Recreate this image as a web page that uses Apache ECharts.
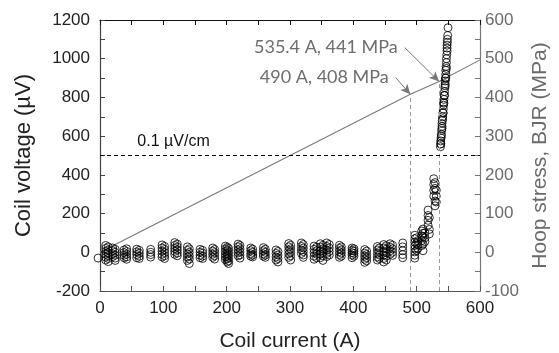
<!DOCTYPE html>
<html>
<head>
<meta charset="utf-8">
<script src="https://cdn.jsdelivr.net/npm/echarts@6/dist/echarts.min.js"></script>
<style>
  html, body { margin: 0; padding: 0; background: #fff; }
  #chart { width: 559px; height: 353px; }
</style>
</head>
<body>
<div id="chart"></div>
<script>
// Measured coil voltage columns below the transition: one current per column
const groupCurrents = [-3, 9, 13, 20, 24, 38, 42, 58, 62, 80, 98, 102, 118, 122, 138, 141,
  158, 162, 178, 181, 198, 201, 203, 218, 221, 238, 241, 258, 261, 278, 281,
  298, 301, 318, 321, 338, 342, 348, 352, 358, 362, 378, 381, 398, 401,
  418, 421, 438, 441, 448, 452, 458, 462, 478];
const groupVoltages = [
  [-30],
  [35, 20, 5, -10, -25, -40],
  [28, 12, -3, -18, -32, -48],
  [22, 8, -8, -22],
  [15, 0, -15, -30, -42],
  [12, -2, -15, -28],
  [18, 4, -10, -24, -36],
  [16, 2, -12, -28],
  [10, -5, -20, -32],
  [15, 0, -12, -25],
  [38, 22, 6, -10, -24],
  [30, 14, -2, -18, -32],
  [50, 35, 20, 5, -10],
  [42, 27, 12, -4, -18],
  [28, 10, -8, -25, -42],
  [18, 0, -18, -35, -58],
  [15, 0, -15, -28],
  [10, -5, -20, -32],
  [22, 6, -10, -26],
  [14, -2, -18, -35],
  [32, 18, 4, -10, -24, -38],
  [26, 10, -6, -20, -34, -50],
  [20, 4, -12, -28, -44, -58],
  [42, 28, 12, -3, -18],
  [35, 18, 2, -14, -30],
  [22, 8, -8, -20],
  [16, 0, -14, -24],
  [24, 8, -8, -20],
  [16, 0, -14, -26],
  [12, -6, -24, -40],
  [4, -14, -32, -50],
  [45, 28, 10, -8, -26],
  [36, 18, 0, -18, -40],
  [48, 30, 12, -6],
  [40, 22, 4, -14, -26],
  [32, 15, -2, -20, -36],
  [26, 8, -10, -28],
  [44, 26, 8, -10, -28],
  [36, 18, 0, -18, -42],
  [48, 30, 12, -6, -22],
  [40, 22, 4, -14],
  [36, 20, 4, -12, -26],
  [28, 12, -4, -20],
  [22, 10, -2, -14, -28],
  [18, 6, -6, -20],
  [14, -4, -20, -36, -52],
  [6, -12, -28, -44],
  [30, 12, -6, -24, -40],
  [22, 4, -14, -32],
  [40, 22, 4, -14, -32, -50],
  [34, 16, -2, -20, -40],
  [44, 26, 8, -10],
  [36, 18, 0, -16],
  [48, 28, 8, -12, -28]
];

// Transition and quench points (current A, voltage µV)
const rampCurrent = [497, 497, 497, 497, 497, 497, 497, 497, 500, 500, 500, 502, 502, 502,
  508, 508, 508, 508, 510, 510, 510, 510, 510, 513, 513, 513,
  518, 518, 518, 518, 520, 520, 520,
  527, 527, 527, 527, 529, 529, 529, 529, 531, 531, 531,
  537.5, 538, 538, 538.5, 539, 539.5, 540, 540, 540.5, 541, 541.5, 542, 542.5, 542.5,
  543, 543.5, 544, 544.5, 545, 545, 545.5, 546, 546, 546.5, 547, 547, 547.5, 548,
  548, 548, 548.5, 548.5, 549, 549.5, 539, 541, 543, 545, 547, 538, 540, 542, 544, 546];
const rampVoltage = [88, 70, 52, 35, 18, 2, -15, -30, 75, 45, 10, 60, 40, 20,
  110, 85, 60, 35, 120, 98, 80, 42, 8, 100, 75, 55,
  218, 190, 165, 140, 180, 118, 95,
  380, 350, 320, 290, 360, 330, 265, 240, 320, 290, 260,
  545, 560, 575, 590, 610, 630, 650, 665, 680, 700, 720, 740, 760, 775,
  790, 810, 830, 850, 870, 885, 900, 920, 940, 960, 980, 1000, 1020, 1040,
  1055, 1070, 1085, 1100, 1120, 1160, 600, 690, 770, 860, 950, 560, 640, 720, 810, 900];

// Hoop stress (BJR) versus current
const stressCurrent = [0, 490, 535.4, 600];
const stressMPa = [0, 408, 441, 497];

// Criterion and annotated operating points
const criterionVoltage = 500;
const criterionLabel = '0.1 µV/cm';
const marks = [
  { current: 490, stress: 408, text: '490 A, 408 MPa', from: [467, 451] },
  { current: 535.4, stress: 441, text: '535.4 A, 441 MPa', from: [481, 529] }
];

const xTicks = { min: 0, max: 600, interval: 100 };
const yLeftTicks = { min: -200, max: 1200, interval: 200 };
const yRightTicks = { min: -100, max: 600, interval: 100 };

const scatterData = [];
groupCurrents.forEach((c, i) => groupVoltages[i].forEach(v => scatterData.push([c, v])));
rampCurrent.forEach((c, i) => scatterData.push([c, rampVoltage[i]]));

const FONT = "Arial, 'Liberation Sans', sans-serif";
const NOTE_FONT = 'Lato';
const plain = v => String(v);

const chart = echarts.init(document.getElementById('chart'), null, { renderer: 'canvas' });

function valueAxisCommon(color, lineColor) {
  return {
    type: 'value',
    axisLine: { show: true, onZero: false, lineStyle: { color: lineColor, width: 1.2 } },
    axisTick: { show: true, inside: true, length: 5, lineStyle: { color: lineColor } },
    minorTick: { show: true, splitNumber: 2, length: 5, lineStyle: { color: lineColor } },
    splitLine: { show: false },
    axisLabel: { color: color, fontFamily: FONT, fontSize: 17, formatter: plain }
  };
}

const option = {
  animation: false,
  backgroundColor: '#fff',
  grid: { left: 100, right: 79, top: 20, bottom: 62, containLabel: false, outerBoundsMode: 'none' },
  xAxis: [
    Object.assign(valueAxisCommon('#222', '#555'), {
      min: xTicks.min, max: xTicks.max, interval: xTicks.interval,
      name: 'Coil current (A)', nameLocation: 'middle', nameGap: 40,
      nameTextStyle: { color: '#222', fontFamily: FONT, fontSize: 21 },
      axisLabel: { color: '#222', fontFamily: FONT, fontSize: 17, margin: 9, formatter: plain }
    }),
    Object.assign(valueAxisCommon('#222', '#111'), {
      position: 'top',
      min: xTicks.min, max: xTicks.max, interval: xTicks.interval,
      axisLabel: { show: false }
    })
  ],
  yAxis: [
    Object.assign(valueAxisCommon('#222', '#444'), {
      min: yLeftTicks.min, max: yLeftTicks.max, interval: yLeftTicks.interval,
      name: 'Coil voltage (µV)', nameLocation: 'middle', nameGap: 65, nameRotate: 90,
      nameTextStyle: { color: '#222', fontFamily: FONT, fontSize: 22 },
      axisLabel: { color: '#222', fontFamily: FONT, fontSize: 17, margin: 10, formatter: plain }
    }),
    Object.assign(valueAxisCommon('#6b6b6b', '#777'), {
      position: 'right',
      min: yRightTicks.min, max: yRightTicks.max, interval: yRightTicks.interval,
      name: 'Hoop stress, BJR (MPa)', nameLocation: 'middle', nameGap: 49, nameRotate: 90,
      nameTextStyle: { color: '#6b6b6b', fontFamily: FONT, fontSize: 21 },
      axisLabel: { color: '#6b6b6b', fontFamily: FONT, fontSize: 17, margin: 5, formatter: plain }
    })
  ],
  series: [
    {
      name: 'stress',
      type: 'line',
      xAxisIndex: 0,
      yAxisIndex: 1,
      data: stressCurrent.map((c, i) => [c, stressMPa[i]]),
      showSymbol: false,
      symbol: 'none',
      lineStyle: { color: '#7a7a7a', width: 1.1 },
      z: 2,
      markLine: {
        silent: true,
        symbol: ['none', 'none'],
        label: { show: false },
        data: [
          ...marks.map(m => [
            { coord: [m.current, yRightTicks.min], lineStyle: { color: '#999', type: [4, 3], width: 1 } },
            { coord: [m.current, m.stress] }
          ]),
          ...marks.map(m => [
            { coord: m.from, symbol: 'none', lineStyle: { color: '#777', type: 'solid', width: 1 } },
            { coord: [m.current, m.stress], symbol: 'arrow', symbolSize: [7, 10] }
          ])
        ]
      },
      markPoint: {
        silent: true,
        symbol: 'circle',
        symbolSize: 0,
        data: marks.map(m => ({
          coord: m.from,
          label: {
            show: true, position: 'left', distance: 7,
            formatter: m.text, color: '#6e6e6e', fontFamily: NOTE_FONT, fontSize: 18
          }
        }))
      }
    },
    {
      name: 'voltage',
      type: 'scatter',
      xAxisIndex: 0,
      yAxisIndex: 0,
      clip: false,
      data: scatterData,
      symbol: 'circle',
      symbolSize: 8,
      itemStyle: { color: 'rgba(0,0,0,0)', borderColor: '#000', borderWidth: 1 },
      z: 3,
      markLine: {
        silent: true,
        symbol: ['none', 'none'],
        label: { show: false },
        lineStyle: { color: '#000', type: [4, 3], width: 1 },
        data: [[{ coord: [xTicks.min, criterionVoltage] }, { coord: [xTicks.max, criterionVoltage] }]]
      },
      markPoint: {
        silent: true,
        symbol: 'circle',
        symbolSize: 0,
        data: [{
          coord: [59, 571],
          label: {
            show: true, position: 'right', distance: 0,
            formatter: criterionLabel, color: '#111', fontFamily: FONT, fontSize: 16
          }
        }]
      }
    }
  ]
};

chart.setOption(option);
</script>
</body>
</html>
